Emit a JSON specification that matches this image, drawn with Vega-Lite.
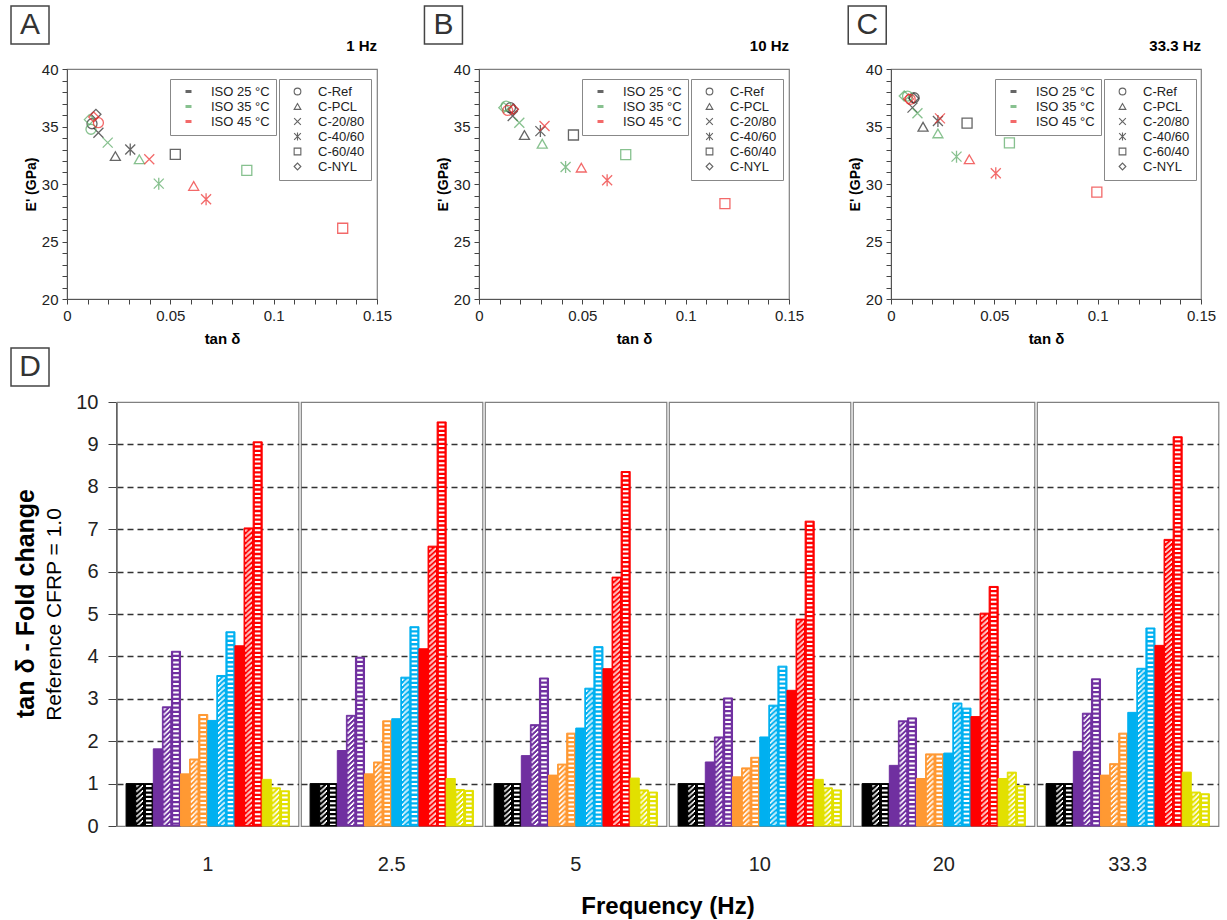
{
  "$schema": "https://vega.github.io/schema/vega-lite/v6.json",
  "padding": {"left": 7, "top": 2, "right": 5, "bottom": 5},
  "config": {
    "font": "Liberation Sans",
    "view": {"stroke": "#808080", "strokeWidth": 1.2},
    "axis": {"labelColor": "#222", "titleColor": "#000", "tickColor": "#444", "domainColor": "#555", "labelFont": "Liberation Sans", "titleFont": "Liberation Sans"},
    "legend": {"labelFont": "Liberation Sans"}
  },
  "datasets": {
    "pts": [
      {"f":"1 Hz","m":"C-Ref","t":"ISO 25 °C","x":0.0121,"y":35.24},
      {"f":"1 Hz","m":"C-PCL","t":"ISO 25 °C","x":0.0234,"y":32.43},
      {"f":"1 Hz","m":"C-20/80","t":"ISO 25 °C","x":0.0152,"y":34.46},
      {"f":"1 Hz","m":"C-40/60","t":"ISO 25 °C","x":0.0306,"y":33.0},
      {"f":"1 Hz","m":"C-60/40","t":"ISO 25 °C","x":0.0524,"y":32.58},
      {"f":"1 Hz","m":"C-NYL","t":"ISO 25 °C","x":0.014,"y":36.06},
      {"f":"1 Hz","m":"C-Ref","t":"ISO 35 °C","x":0.0116,"y":34.76},
      {"f":"1 Hz","m":"C-PCL","t":"ISO 35 °C","x":0.035,"y":32.15},
      {"f":"1 Hz","m":"C-20/80","t":"ISO 35 °C","x":0.0197,"y":33.6},
      {"f":"1 Hz","m":"C-40/60","t":"ISO 35 °C","x":0.0444,"y":30.03},
      {"f":"1 Hz","m":"C-60/40","t":"ISO 35 °C","x":0.087,"y":31.19},
      {"f":"1 Hz","m":"C-NYL","t":"ISO 35 °C","x":0.0108,"y":35.6},
      {"f":"1 Hz","m":"C-Ref","t":"ISO 45 °C","x":0.0152,"y":35.33},
      {"f":"1 Hz","m":"C-PCL","t":"ISO 45 °C","x":0.0613,"y":29.83},
      {"f":"1 Hz","m":"C-20/80","t":"ISO 45 °C","x":0.0398,"y":32.15},
      {"f":"1 Hz","m":"C-40/60","t":"ISO 45 °C","x":0.0673,"y":28.67},
      {"f":"1 Hz","m":"C-60/40","t":"ISO 45 °C","x":0.1334,"y":26.15},
      {"f":"1 Hz","m":"C-NYL","t":"ISO 45 °C","x":0.0129,"y":35.83},
      {"f":"10 Hz","m":"C-Ref","t":"ISO 25 °C","x":0.0152,"y":36.64},
      {"f":"10 Hz","m":"C-PCL","t":"ISO 25 °C","x":0.022,"y":34.26},
      {"f":"10 Hz","m":"C-20/80","t":"ISO 25 °C","x":0.0163,"y":35.91},
      {"f":"10 Hz","m":"C-40/60","t":"ISO 25 °C","x":0.0297,"y":34.6},
      {"f":"10 Hz","m":"C-60/40","t":"ISO 25 °C","x":0.0457,"y":34.26},
      {"f":"10 Hz","m":"C-NYL","t":"ISO 25 °C","x":0.0165,"y":36.5},
      {"f":"10 Hz","m":"C-Ref","t":"ISO 35 °C","x":0.0131,"y":36.78},
      {"f":"10 Hz","m":"C-PCL","t":"ISO 35 °C","x":0.0306,"y":33.5},
      {"f":"10 Hz","m":"C-20/80","t":"ISO 35 °C","x":0.0195,"y":35.33},
      {"f":"10 Hz","m":"C-40/60","t":"ISO 35 °C","x":0.0419,"y":31.48},
      {"f":"10 Hz","m":"C-60/40","t":"ISO 35 °C","x":0.071,"y":32.55},
      {"f":"10 Hz","m":"C-NYL","t":"ISO 35 °C","x":0.012,"y":36.64},
      {"f":"10 Hz","m":"C-Ref","t":"ISO 45 °C","x":0.0139,"y":36.4},
      {"f":"10 Hz","m":"C-PCL","t":"ISO 45 °C","x":0.0495,"y":31.42},
      {"f":"10 Hz","m":"C-20/80","t":"ISO 45 °C","x":0.0317,"y":35.04},
      {"f":"10 Hz","m":"C-40/60","t":"ISO 45 °C","x":0.062,"y":30.32},
      {"f":"10 Hz","m":"C-60/40","t":"ISO 45 °C","x":0.119,"y":28.29},
      {"f":"10 Hz","m":"C-NYL","t":"ISO 45 °C","x":0.0167,"y":36.49},
      {"f":"33.3 Hz","m":"C-Ref","t":"ISO 25 °C","x":0.0112,"y":37.5},
      {"f":"33.3 Hz","m":"C-PCL","t":"ISO 25 °C","x":0.0155,"y":34.98},
      {"f":"33.3 Hz","m":"C-20/80","t":"ISO 25 °C","x":0.0104,"y":36.64},
      {"f":"33.3 Hz","m":"C-40/60","t":"ISO 25 °C","x":0.0227,"y":35.48},
      {"f":"33.3 Hz","m":"C-60/40","t":"ISO 25 °C","x":0.0368,"y":35.3},
      {"f":"33.3 Hz","m":"C-NYL","t":"ISO 25 °C","x":0.011,"y":37.45},
      {"f":"33.3 Hz","m":"C-Ref","t":"ISO 35 °C","x":0.008,"y":37.65},
      {"f":"33.3 Hz","m":"C-PCL","t":"ISO 35 °C","x":0.0227,"y":34.4},
      {"f":"33.3 Hz","m":"C-20/80","t":"ISO 35 °C","x":0.0128,"y":36.15},
      {"f":"33.3 Hz","m":"C-40/60","t":"ISO 35 °C","x":0.0317,"y":32.38},
      {"f":"33.3 Hz","m":"C-60/40","t":"ISO 35 °C","x":0.0573,"y":33.57},
      {"f":"33.3 Hz","m":"C-NYL","t":"ISO 35 °C","x":0.0064,"y":37.65},
      {"f":"33.3 Hz","m":"C-Ref","t":"ISO 45 °C","x":0.0093,"y":37.36},
      {"f":"33.3 Hz","m":"C-PCL","t":"ISO 45 °C","x":0.0379,"y":32.15},
      {"f":"33.3 Hz","m":"C-20/80","t":"ISO 45 °C","x":0.0237,"y":35.71},
      {"f":"33.3 Hz","m":"C-40/60","t":"ISO 45 °C","x":0.0507,"y":30.93},
      {"f":"33.3 Hz","m":"C-60/40","t":"ISO 45 °C","x":0.0996,"y":29.3},
      {"f":"33.3 Hz","m":"C-NYL","t":"ISO 45 °C","x":0.0085,"y":37.4}
    ],
    "bars": [
      {"f":"1","m":"C-Ref","t":25,"s":"C-Ref 25","v":1},{"f":"1","m":"C-Ref","t":35,"s":"C-Ref 35","v":1},{"f":"1","m":"C-Ref","t":45,"s":"C-Ref 45","v":1},
      {"f":"1","m":"C-PCL","t":25,"s":"C-PCL 25","v":1.82},{"f":"1","m":"C-PCL","t":35,"s":"C-PCL 35","v":2.81},{"f":"1","m":"C-PCL","t":45,"s":"C-PCL 45","v":4.12},
      {"f":"1","m":"C-20/80","t":25,"s":"C-20/80 25","v":1.23},{"f":"1","m":"C-20/80","t":35,"s":"C-20/80 35","v":1.58},{"f":"1","m":"C-20/80","t":45,"s":"C-20/80 45","v":2.63},
      {"f":"1","m":"C-40/60","t":25,"s":"C-40/60 25","v":2.49},{"f":"1","m":"C-40/60","t":35,"s":"C-40/60 35","v":3.55},{"f":"1","m":"C-40/60","t":45,"s":"C-40/60 45","v":4.58},
      {"f":"1","m":"C-60/40","t":25,"s":"C-60/40 25","v":4.25},{"f":"1","m":"C-60/40","t":35,"s":"C-60/40 35","v":7.03},{"f":"1","m":"C-60/40","t":45,"s":"C-60/40 45","v":9.06},
      {"f":"1","m":"C-NYL","t":25,"s":"C-NYL 25","v":1.1},{"f":"1","m":"C-NYL","t":35,"s":"C-NYL 35","v":0.9},{"f":"1","m":"C-NYL","t":45,"s":"C-NYL 45","v":0.83},
      {"f":"2.5","m":"C-Ref","t":25,"s":"C-Ref 25","v":1},{"f":"2.5","m":"C-Ref","t":35,"s":"C-Ref 35","v":1},{"f":"2.5","m":"C-Ref","t":45,"s":"C-Ref 45","v":1},
      {"f":"2.5","m":"C-PCL","t":25,"s":"C-PCL 25","v":1.78},{"f":"2.5","m":"C-PCL","t":35,"s":"C-PCL 35","v":2.61},{"f":"2.5","m":"C-PCL","t":45,"s":"C-PCL 45","v":3.98},
      {"f":"2.5","m":"C-20/80","t":25,"s":"C-20/80 25","v":1.23},{"f":"2.5","m":"C-20/80","t":35,"s":"C-20/80 35","v":1.51},{"f":"2.5","m":"C-20/80","t":45,"s":"C-20/80 45","v":2.48},
      {"f":"2.5","m":"C-40/60","t":25,"s":"C-40/60 25","v":2.53},{"f":"2.5","m":"C-40/60","t":35,"s":"C-40/60 35","v":3.51},{"f":"2.5","m":"C-40/60","t":45,"s":"C-40/60 45","v":4.7},
      {"f":"2.5","m":"C-60/40","t":25,"s":"C-60/40 25","v":4.18},{"f":"2.5","m":"C-60/40","t":35,"s":"C-60/40 35","v":6.6},{"f":"2.5","m":"C-60/40","t":45,"s":"C-60/40 45","v":9.53},
      {"f":"2.5","m":"C-NYL","t":25,"s":"C-NYL 25","v":1.12},{"f":"2.5","m":"C-NYL","t":35,"s":"C-NYL 35","v":0.86},{"f":"2.5","m":"C-NYL","t":45,"s":"C-NYL 45","v":0.84},
      {"f":"5","m":"C-Ref","t":25,"s":"C-Ref 25","v":1},{"f":"5","m":"C-Ref","t":35,"s":"C-Ref 35","v":1},{"f":"5","m":"C-Ref","t":45,"s":"C-Ref 45","v":1},
      {"f":"5","m":"C-PCL","t":25,"s":"C-PCL 25","v":1.66},{"f":"5","m":"C-PCL","t":35,"s":"C-PCL 35","v":2.39},{"f":"5","m":"C-PCL","t":45,"s":"C-PCL 45","v":3.49},
      {"f":"5","m":"C-20/80","t":25,"s":"C-20/80 25","v":1.2},{"f":"5","m":"C-20/80","t":35,"s":"C-20/80 35","v":1.46},{"f":"5","m":"C-20/80","t":45,"s":"C-20/80 45","v":2.19},
      {"f":"5","m":"C-40/60","t":25,"s":"C-40/60 25","v":2.31},{"f":"5","m":"C-40/60","t":35,"s":"C-40/60 35","v":3.25},{"f":"5","m":"C-40/60","t":45,"s":"C-40/60 45","v":4.23},
      {"f":"5","m":"C-60/40","t":25,"s":"C-60/40 25","v":3.71},{"f":"5","m":"C-60/40","t":35,"s":"C-60/40 35","v":5.87},{"f":"5","m":"C-60/40","t":45,"s":"C-60/40 45","v":8.36},
      {"f":"5","m":"C-NYL","t":25,"s":"C-NYL 25","v":1.13},{"f":"5","m":"C-NYL","t":35,"s":"C-NYL 35","v":0.85},{"f":"5","m":"C-NYL","t":45,"s":"C-NYL 45","v":0.8},
      {"f":"10","m":"C-Ref","t":25,"s":"C-Ref 25","v":1},{"f":"10","m":"C-Ref","t":35,"s":"C-Ref 35","v":1},{"f":"10","m":"C-Ref","t":45,"s":"C-Ref 45","v":1},
      {"f":"10","m":"C-PCL","t":25,"s":"C-PCL 25","v":1.51},{"f":"10","m":"C-PCL","t":35,"s":"C-PCL 35","v":2.1},{"f":"10","m":"C-PCL","t":45,"s":"C-PCL 45","v":3.02},
      {"f":"10","m":"C-20/80","t":25,"s":"C-20/80 25","v":1.16},{"f":"10","m":"C-20/80","t":35,"s":"C-20/80 35","v":1.37},{"f":"10","m":"C-20/80","t":45,"s":"C-20/80 45","v":1.62},
      {"f":"10","m":"C-40/60","t":25,"s":"C-40/60 25","v":2.1},{"f":"10","m":"C-40/60","t":35,"s":"C-40/60 35","v":2.85},{"f":"10","m":"C-40/60","t":45,"s":"C-40/60 45","v":3.77},
      {"f":"10","m":"C-60/40","t":25,"s":"C-60/40 25","v":3.2},{"f":"10","m":"C-60/40","t":35,"s":"C-60/40 35","v":4.88},{"f":"10","m":"C-60/40","t":45,"s":"C-60/40 45","v":7.19},
      {"f":"10","m":"C-NYL","t":25,"s":"C-NYL 25","v":1.1},{"f":"10","m":"C-NYL","t":35,"s":"C-NYL 35","v":0.9},{"f":"10","m":"C-NYL","t":45,"s":"C-NYL 45","v":0.85},
      {"f":"20","m":"C-Ref","t":25,"s":"C-Ref 25","v":1},{"f":"20","m":"C-Ref","t":35,"s":"C-Ref 35","v":1},{"f":"20","m":"C-Ref","t":45,"s":"C-Ref 45","v":1},
      {"f":"20","m":"C-PCL","t":25,"s":"C-PCL 25","v":1.43},{"f":"20","m":"C-PCL","t":35,"s":"C-PCL 35","v":2.48},{"f":"20","m":"C-PCL","t":45,"s":"C-PCL 45","v":2.55},
      {"f":"20","m":"C-20/80","t":25,"s":"C-20/80 25","v":1.12},{"f":"20","m":"C-20/80","t":35,"s":"C-20/80 35","v":1.7},{"f":"20","m":"C-20/80","t":45,"s":"C-20/80 45","v":1.7},
      {"f":"20","m":"C-40/60","t":25,"s":"C-40/60 25","v":1.72},{"f":"20","m":"C-40/60","t":35,"s":"C-40/60 35","v":2.9},{"f":"20","m":"C-40/60","t":45,"s":"C-40/60 45","v":2.78},
      {"f":"20","m":"C-60/40","t":25,"s":"C-60/40 25","v":2.58},{"f":"20","m":"C-60/40","t":35,"s":"C-60/40 35","v":5.02},{"f":"20","m":"C-60/40","t":45,"s":"C-60/40 45","v":5.65},
      {"f":"20","m":"C-NYL","t":25,"s":"C-NYL 25","v":1.12},{"f":"20","m":"C-NYL","t":35,"s":"C-NYL 35","v":1.27},{"f":"20","m":"C-NYL","t":45,"s":"C-NYL 45","v":0.95},
      {"f":"33.3","m":"C-Ref","t":25,"s":"C-Ref 25","v":1},{"f":"33.3","m":"C-Ref","t":35,"s":"C-Ref 35","v":1},{"f":"33.3","m":"C-Ref","t":45,"s":"C-Ref 45","v":1},
      {"f":"33.3","m":"C-PCL","t":25,"s":"C-PCL 25","v":1.76},{"f":"33.3","m":"C-PCL","t":35,"s":"C-PCL 35","v":2.66},{"f":"33.3","m":"C-PCL","t":45,"s":"C-PCL 45","v":3.47},
      {"f":"33.3","m":"C-20/80","t":25,"s":"C-20/80 25","v":1.2},{"f":"33.3","m":"C-20/80","t":35,"s":"C-20/80 35","v":1.47},{"f":"33.3","m":"C-20/80","t":45,"s":"C-20/80 45","v":2.19},
      {"f":"33.3","m":"C-40/60","t":25,"s":"C-40/60 25","v":2.68},{"f":"33.3","m":"C-40/60","t":35,"s":"C-40/60 35","v":3.72},{"f":"33.3","m":"C-40/60","t":45,"s":"C-40/60 45","v":4.67},
      {"f":"33.3","m":"C-60/40","t":25,"s":"C-60/40 25","v":4.26},{"f":"33.3","m":"C-60/40","t":35,"s":"C-60/40 35","v":6.76},{"f":"33.3","m":"C-60/40","t":45,"s":"C-60/40 45","v":9.18},
      {"f":"33.3","m":"C-NYL","t":25,"s":"C-NYL 25","v":1.27},{"f":"33.3","m":"C-NYL","t":35,"s":"C-NYL 35","v":0.8},{"f":"33.3","m":"C-NYL","t":45,"s":"C-NYL 45","v":0.76}
    ]
  },
  "vconcat": [
    {
      "hconcat": [
        {
          "width": 310, "height": 230,
          "resolve": {"axis": {"x": "independent", "y": "independent"}},
          "layer": [
            {
              "data": {"name": "pts"},
              "transform": [{"filter": "datum.f == '1 Hz'"}],
              "mark": {"type": "point", "filled": false, "size": 100, "strokeWidth": 1.3},
              "encoding": {
                "x": {"field": "x", "type": "quantitative", "scale": {"domain": [0, 0.15], "nice": false, "zero": false},
                  "axis": {"title": "tan δ", "values": [0,0.01,0.02,0.03,0.04,0.05,0.06,0.07,0.08,0.09,0.1,0.11,0.12,0.13,0.14,0.15], "labelExpr": "round(datum.value*100) % 5 == 0 ? format(datum.value, '.2~f') : ''", "labelFlush": false, "labelOverlap": false, "labelFontSize": 15, "labelPadding": 4, "tickSize": 5, "titleFontSize": 15, "titleFontWeight": "bold", "titlePadding": 8, "grid": false}},
                "y": {"field": "y", "type": "quantitative", "scale": {"domain": [20, 40], "nice": false, "zero": false},
                  "axis": {"title": "E' (GPa)", "values": [20,21,22,23,24,25,26,27,28,29,30,31,32,33,34,35,36,37,38,39,40], "labelExpr": "datum.value % 5 == 0 ? datum.label : ''", "labelOverlap": false, "labelFontSize": 15, "labelPadding": 4, "tickSize": 5, "titleFontSize": 14, "titleFontWeight": "bold", "titlePadding": 3, "grid": false}},
                "color": {"field": "t", "type": "nominal", "scale": {"domain": ["ISO 25 °C", "ISO 35 °C", "ISO 45 °C"], "range": ["#262626", "#55a860", "#ee2b2b"]},
                  "legend": {"title": null, "orient": "none", "legendX": 103, "legendY": 10, "strokeColor": "#888", "fillColor": "white", "padding": 6, "symbolOffset": 6, "labelOffset": 16, "symbolType": "M-1,0L1,0", "symbolSize": 36, "symbolStrokeWidth": 3, "labelFontSize": 13, "rowPadding": 1, "labelColor": "#222"}},
                "shape": {"field": "m", "type": "nominal", "scale": {"domain": ["C-Ref", "C-PCL", "C-20/80", "C-40/60", "C-60/40", "C-NYL"], "range": ["circle", "triangle-up", "M-1,-1L1,1M-1,1L1,-1", "M-1,-1L1,1M-1,1L1,-1M0,-1.2L0,1.2", "square", "diamond"]},
                  "legend": {"title": null, "orient": "none", "legendX": 212, "legendY": 10, "strokeColor": "#888", "fillColor": "white", "padding": 6, "symbolOffset": 6, "labelOffset": 14, "symbolSize": 45, "symbolStrokeColor": "#222", "symbolFillColor": "transparent", "symbolStrokeWidth": 1.1, "labelFontSize": 13, "rowPadding": 1, "labelColor": "#222"}}
              }
            },
            {"data": {"values": [{}]}, "mark": {"type": "point", "shape": "square", "size": 1444, "filled": false, "stroke": "#444", "strokeWidth": 1.5, "opacity": 1},
             "encoding": {"x": {"datum": -0.0179, "type": "quantitative", "axis": null}, "y": {"datum": 43.83, "type": "quantitative", "axis": null}}},
            {"data": {"values": [{}]}, "mark": {"type": "text", "text": "A", "fontSize": 30, "color": "#333", "align": "center", "baseline": "middle"},
             "encoding": {"x": {"datum": -0.0179, "type": "quantitative", "axis": null}, "y": {"datum": 43.83, "type": "quantitative", "axis": null}}},
            {"data": {"values": [{}]}, "mark": {"type": "point", "shape": "square", "size": 1444, "filled": false, "stroke": "#444", "strokeWidth": 1.5, "opacity": 1},
             "encoding": {"x": {"datum": -0.0179, "type": "quantitative", "axis": null}, "y": {"datum": 14.09, "type": "quantitative", "axis": null}}},
            {"data": {"values": [{}]}, "mark": {"type": "text", "text": "D", "fontSize": 30, "color": "#333", "align": "center", "baseline": "middle"},
             "encoding": {"x": {"datum": -0.0179, "type": "quantitative", "axis": null}, "y": {"datum": 14.09, "type": "quantitative", "axis": null}}},
            {"data": {"values": [{}]}, "mark": {"type": "text", "text": "1 Hz", "fontSize": 15, "fontWeight": "bold", "color": "#000", "align": "right", "baseline": "middle"},
             "encoding": {"x": {"datum": 0.15, "type": "quantitative", "axis": null}, "y": {"datum": 42.0, "type": "quantitative", "axis": null}}}
          ]
        },
        {
          "width": 310, "height": 230,
          "resolve": {"axis": {"x": "independent", "y": "independent"}},
          "layer": [
            {
              "data": {"name": "pts"},
              "transform": [{"filter": "datum.f == '10 Hz'"}],
              "mark": {"type": "point", "filled": false, "size": 100, "strokeWidth": 1.3},
              "encoding": {
                "x": {"field": "x", "type": "quantitative", "scale": {"domain": [0, 0.15], "nice": false, "zero": false},
                  "axis": {"title": "tan δ", "values": [0,0.01,0.02,0.03,0.04,0.05,0.06,0.07,0.08,0.09,0.1,0.11,0.12,0.13,0.14,0.15], "labelExpr": "round(datum.value*100) % 5 == 0 ? format(datum.value, '.2~f') : ''", "labelFlush": false, "labelOverlap": false, "labelFontSize": 15, "labelPadding": 4, "tickSize": 5, "titleFontSize": 15, "titleFontWeight": "bold", "titlePadding": 8, "grid": false}},
                "y": {"field": "y", "type": "quantitative", "scale": {"domain": [20, 40], "nice": false, "zero": false},
                  "axis": {"title": "E' (GPa)", "values": [20,21,22,23,24,25,26,27,28,29,30,31,32,33,34,35,36,37,38,39,40], "labelExpr": "datum.value % 5 == 0 ? datum.label : ''", "labelOverlap": false, "labelFontSize": 15, "labelPadding": 4, "tickSize": 5, "titleFontSize": 14, "titleFontWeight": "bold", "titlePadding": 3, "grid": false}},
                "color": {"field": "t", "type": "nominal", "scale": {"domain": ["ISO 25 °C", "ISO 35 °C", "ISO 45 °C"], "range": ["#262626", "#55a860", "#ee2b2b"]},
                  "legend": {"title": null, "orient": "none", "legendX": 103, "legendY": 10, "strokeColor": "#888", "fillColor": "white", "padding": 6, "symbolOffset": 6, "labelOffset": 16, "symbolType": "M-1,0L1,0", "symbolSize": 36, "symbolStrokeWidth": 3, "labelFontSize": 13, "rowPadding": 1, "labelColor": "#222"}},
                "shape": {"field": "m", "type": "nominal", "scale": {"domain": ["C-Ref", "C-PCL", "C-20/80", "C-40/60", "C-60/40", "C-NYL"], "range": ["circle", "triangle-up", "M-1,-1L1,1M-1,1L1,-1", "M-1,-1L1,1M-1,1L1,-1M0,-1.2L0,1.2", "square", "diamond"]},
                  "legend": {"title": null, "orient": "none", "legendX": 212, "legendY": 10, "strokeColor": "#888", "fillColor": "white", "padding": 6, "symbolOffset": 6, "labelOffset": 14, "symbolSize": 45, "symbolStrokeColor": "#222", "symbolFillColor": "transparent", "symbolStrokeWidth": 1.1, "labelFontSize": 13, "rowPadding": 1, "labelColor": "#222"}}
              }
            },
            {"data": {"values": [{}]}, "mark": {"type": "point", "shape": "square", "size": 1444, "filled": false, "stroke": "#444", "strokeWidth": 1.5, "opacity": 1},
             "encoding": {"x": {"datum": -0.0172, "type": "quantitative", "axis": null}, "y": {"datum": 43.83, "type": "quantitative", "axis": null}}},
            {"data": {"values": [{}]}, "mark": {"type": "text", "text": "B", "fontSize": 30, "color": "#333", "align": "center", "baseline": "middle"},
             "encoding": {"x": {"datum": -0.0172, "type": "quantitative", "axis": null}, "y": {"datum": 43.83, "type": "quantitative", "axis": null}}},
            {"data": {"values": [{}]}, "mark": {"type": "text", "text": "10 Hz", "fontSize": 15, "fontWeight": "bold", "color": "#000", "align": "right", "baseline": "middle"},
             "encoding": {"x": {"datum": 0.15, "type": "quantitative", "axis": null}, "y": {"datum": 42.0, "type": "quantitative", "axis": null}}}
          ]
        },
        {
          "width": 310, "height": 230,
          "resolve": {"axis": {"x": "independent", "y": "independent"}},
          "layer": [
            {
              "data": {"name": "pts"},
              "transform": [{"filter": "datum.f == '33.3 Hz'"}],
              "mark": {"type": "point", "filled": false, "size": 100, "strokeWidth": 1.3},
              "encoding": {
                "x": {"field": "x", "type": "quantitative", "scale": {"domain": [0, 0.15], "nice": false, "zero": false},
                  "axis": {"title": "tan δ", "values": [0,0.01,0.02,0.03,0.04,0.05,0.06,0.07,0.08,0.09,0.1,0.11,0.12,0.13,0.14,0.15], "labelExpr": "round(datum.value*100) % 5 == 0 ? format(datum.value, '.2~f') : ''", "labelFlush": false, "labelOverlap": false, "labelFontSize": 15, "labelPadding": 4, "tickSize": 5, "titleFontSize": 15, "titleFontWeight": "bold", "titlePadding": 8, "grid": false}},
                "y": {"field": "y", "type": "quantitative", "scale": {"domain": [20, 40], "nice": false, "zero": false},
                  "axis": {"title": "E' (GPa)", "values": [20,21,22,23,24,25,26,27,28,29,30,31,32,33,34,35,36,37,38,39,40], "labelExpr": "datum.value % 5 == 0 ? datum.label : ''", "labelOverlap": false, "labelFontSize": 15, "labelPadding": 4, "tickSize": 5, "titleFontSize": 14, "titleFontWeight": "bold", "titlePadding": 3, "grid": false}},
                "color": {"field": "t", "type": "nominal", "scale": {"domain": ["ISO 25 °C", "ISO 35 °C", "ISO 45 °C"], "range": ["#262626", "#55a860", "#ee2b2b"]},
                  "legend": {"title": null, "orient": "none", "legendX": 104, "legendY": 10, "strokeColor": "#888", "fillColor": "white", "padding": 6, "symbolOffset": 6, "labelOffset": 16, "symbolType": "M-1,0L1,0", "symbolSize": 36, "symbolStrokeWidth": 3, "labelFontSize": 13, "rowPadding": 1, "labelColor": "#222"}},
                "shape": {"field": "m", "type": "nominal", "scale": {"domain": ["C-Ref", "C-PCL", "C-20/80", "C-40/60", "C-60/40", "C-NYL"], "range": ["circle", "triangle-up", "M-1,-1L1,1M-1,1L1,-1", "M-1,-1L1,1M-1,1L1,-1M0,-1.2L0,1.2", "square", "diamond"]},
                  "legend": {"title": null, "orient": "none", "legendX": 213, "legendY": 10, "strokeColor": "#888", "fillColor": "white", "padding": 6, "symbolOffset": 6, "labelOffset": 14, "symbolSize": 45, "symbolStrokeColor": "#222", "symbolFillColor": "transparent", "symbolStrokeWidth": 1.1, "labelFontSize": 13, "rowPadding": 1, "labelColor": "#222"}}
              }
            },
            {"data": {"values": [{}]}, "mark": {"type": "point", "shape": "square", "size": 1444, "filled": false, "stroke": "#444", "strokeWidth": 1.5, "opacity": 1},
             "encoding": {"x": {"datum": -0.0115, "type": "quantitative", "axis": null}, "y": {"datum": 43.83, "type": "quantitative", "axis": null}}},
            {"data": {"values": [{}]}, "mark": {"type": "text", "text": "C", "fontSize": 30, "color": "#333", "align": "center", "baseline": "middle"},
             "encoding": {"x": {"datum": -0.0115, "type": "quantitative", "axis": null}, "y": {"datum": 43.83, "type": "quantitative", "axis": null}}},
            {"data": {"values": [{}]}, "mark": {"type": "text", "text": "33.3 Hz", "fontSize": 15, "fontWeight": "bold", "color": "#000", "align": "right", "baseline": "middle"},
             "encoding": {"x": {"datum": 0.15, "type": "quantitative", "axis": null}, "y": {"datum": 42.0, "type": "quantitative", "axis": null}}}
          ]
        }
      ],
      "spacing": 102,
      "bounds": "flush",
      "resolve": {"legend": {"color": "independent", "shape": "independent"}}
    },
    {
      "hconcat": [
        {
          "width": 1, "height": 402,
          "view": {"stroke": null},
          "data": {"values": [{}]},
          "mark": {"type": "point", "opacity": 0, "size": 1},
          "encoding": {"y": {"datum": 0, "type": "quantitative", "scale": {"domain": [0, 1]},
            "axis": {"title": "tan δ - Fold change", "titleFontSize": 25, "titleFontWeight": "bold", "titleColor": "#000", "labels": false, "ticks": false, "domain": false, "grid": false, "titlePadding": 29}}}
        },
        {
          "data": {"name": "bars"},
          "facet": {"column": {"field": "f", "type": "ordinal", "sort": ["1", "2.5", "5", "10", "20", "33.3"], "title": "Frequency (Hz)",
            "header": {"labelOrient": "bottom", "titleOrient": "bottom", "labelFontSize": 20, "labelPadding": 26, "labelColor": "#222", "titleFontSize": 24, "titleFontWeight": "bold", "titlePadding": 10, "titleColor": "#000"}}},
          "spacing": 0,
          "spec": {
            "width": 181.5, "height": 424,
            "layer": [
              {
                "mark": {"type": "bar", "strokeWidth": 1},
                "encoding": {
                  "x": {"field": "s", "type": "nominal", "sort": ["C-Ref 25","C-Ref 35","C-Ref 45","C-PCL 25","C-PCL 35","C-PCL 45","C-20/80 25","C-20/80 35","C-20/80 45","C-40/60 25","C-40/60 35","C-40/60 45","C-60/40 25","C-60/40 35","C-60/40 45","C-NYL 25","C-NYL 35","C-NYL 45"], "axis": null, "scale": {"paddingInner": 0, "paddingOuter": 1.5}},
                  "y": {"field": "v", "type": "quantitative", "scale": {"domain": [0, 10], "nice": false},
                    "axis": {"title": "Reference CFRP = 1.0", "titleFontSize": 21, "titleFontWeight": "normal", "titlePadding": 11, "values": [0,1,2,3,4,5,6,7,8,9,10], "labelFontSize": 20, "labelPadding": 10, "tickSize": 8, "grid": true, "gridDash": [6, 4], "gridColor": "#333", "gridWidth": 1.5, "gridOpacity": {"condition": {"test": "datum.value == 0 || datum.value == 10", "value": 0}, "value": 1}}},
                  "fill": {"field": "m", "type": "nominal", "scale": {"domain": ["C-Ref", "C-PCL", "C-20/80", "C-40/60", "C-60/40", "C-NYL"], "range": ["#000000", "#7030a0", "#ff9933", "#00b0f0", "#ff0000", "#e2e000"]}, "legend": null},
                  "stroke": {"field": "m", "type": "nominal", "scale": {"domain": ["C-Ref", "C-PCL", "C-20/80", "C-40/60", "C-60/40", "C-NYL"], "range": ["#000000", "#7030a0", "#ff9933", "#00b0f0", "#ff0000", "#e2e000"]}, "legend": null}
                }
              },
              {
                "transform": [{"filter": "datum.t == 45"}],
                "mark": {"type": "rule", "stroke": "white", "strokeWidth": 5.6, "strokeDash": [2, 2.3], "yOffset": 1.5, "y2Offset": -1},
                "encoding": {
                  "x": {"field": "s", "type": "nominal", "bandPosition": 0.5, "sort": ["C-Ref 25","C-Ref 35","C-Ref 45","C-PCL 25","C-PCL 35","C-PCL 45","C-20/80 25","C-20/80 35","C-20/80 45","C-40/60 25","C-40/60 35","C-40/60 45","C-60/40 25","C-60/40 35","C-60/40 45","C-NYL 25","C-NYL 35","C-NYL 45"]},
                  "y": {"field": "v", "type": "quantitative"},
                  "y2": {"datum": 0}
                }
              },
              {
                "transform": [{"filter": "datum.t == 35"}],
                "mark": {"type": "rule", "stroke": "white", "strokeWidth": 1.15, "strokeDash": [2.2, 2.8], "strokeDashOffset": 0, "yOffset": 1.5, "y2Offset": -1},
                "encoding": {
                  "x": {"field": "s", "type": "nominal", "bandPosition": 0.199, "sort": ["C-Ref 25","C-Ref 35","C-Ref 45","C-PCL 25","C-PCL 35","C-PCL 45","C-20/80 25","C-20/80 35","C-20/80 45","C-40/60 25","C-40/60 35","C-40/60 45","C-60/40 25","C-60/40 35","C-60/40 45","C-NYL 25","C-NYL 35","C-NYL 45"]},
                  "y": {"field": "v", "type": "quantitative"},
                  "y2": {"datum": 0}
                }
              },
              {
                "transform": [{"filter": "datum.t == 35"}],
                "mark": {"type": "rule", "stroke": "white", "strokeWidth": 1.15, "strokeDash": [2.2, 2.8], "strokeDashOffset": 1.04, "yOffset": 1.5, "y2Offset": -1},
                "encoding": {
                  "x": {"field": "s", "type": "nominal", "bandPosition": 0.319, "sort": ["C-Ref 25","C-Ref 35","C-Ref 45","C-PCL 25","C-PCL 35","C-PCL 45","C-20/80 25","C-20/80 35","C-20/80 45","C-40/60 25","C-40/60 35","C-40/60 45","C-60/40 25","C-60/40 35","C-60/40 45","C-NYL 25","C-NYL 35","C-NYL 45"]},
                  "y": {"field": "v", "type": "quantitative"},
                  "y2": {"datum": 0}
                }
              },
              {
                "transform": [{"filter": "datum.t == 35"}],
                "mark": {"type": "rule", "stroke": "white", "strokeWidth": 1.15, "strokeDash": [2.2, 2.8], "strokeDashOffset": 2.08, "yOffset": 1.5, "y2Offset": -1},
                "encoding": {
                  "x": {"field": "s", "type": "nominal", "bandPosition": 0.44, "sort": ["C-Ref 25","C-Ref 35","C-Ref 45","C-PCL 25","C-PCL 35","C-PCL 45","C-20/80 25","C-20/80 35","C-20/80 45","C-40/60 25","C-40/60 35","C-40/60 45","C-60/40 25","C-60/40 35","C-60/40 45","C-NYL 25","C-NYL 35","C-NYL 45"]},
                  "y": {"field": "v", "type": "quantitative"},
                  "y2": {"datum": 0}
                }
              },
              {
                "transform": [{"filter": "datum.t == 35"}],
                "mark": {"type": "rule", "stroke": "white", "strokeWidth": 1.15, "strokeDash": [2.2, 2.8], "strokeDashOffset": 3.12, "yOffset": 1.5, "y2Offset": -1},
                "encoding": {
                  "x": {"field": "s", "type": "nominal", "bandPosition": 0.56, "sort": ["C-Ref 25","C-Ref 35","C-Ref 45","C-PCL 25","C-PCL 35","C-PCL 45","C-20/80 25","C-20/80 35","C-20/80 45","C-40/60 25","C-40/60 35","C-40/60 45","C-60/40 25","C-60/40 35","C-60/40 45","C-NYL 25","C-NYL 35","C-NYL 45"]},
                  "y": {"field": "v", "type": "quantitative"},
                  "y2": {"datum": 0}
                }
              },
              {
                "transform": [{"filter": "datum.t == 35"}],
                "mark": {"type": "rule", "stroke": "white", "strokeWidth": 1.15, "strokeDash": [2.2, 2.8], "strokeDashOffset": 4.16, "yOffset": 1.5, "y2Offset": -1},
                "encoding": {
                  "x": {"field": "s", "type": "nominal", "bandPosition": 0.68, "sort": ["C-Ref 25","C-Ref 35","C-Ref 45","C-PCL 25","C-PCL 35","C-PCL 45","C-20/80 25","C-20/80 35","C-20/80 45","C-40/60 25","C-40/60 35","C-40/60 45","C-60/40 25","C-60/40 35","C-60/40 45","C-NYL 25","C-NYL 35","C-NYL 45"]},
                  "y": {"field": "v", "type": "quantitative"},
                  "y2": {"datum": 0}
                }
              },
              {
                "transform": [{"filter": "datum.t == 35"}],
                "mark": {"type": "rule", "stroke": "white", "strokeWidth": 1.15, "strokeDash": [2.2, 2.8], "strokeDashOffset": 5.2, "yOffset": 1.5, "y2Offset": -1},
                "encoding": {
                  "x": {"field": "s", "type": "nominal", "bandPosition": 0.801, "sort": ["C-Ref 25","C-Ref 35","C-Ref 45","C-PCL 25","C-PCL 35","C-PCL 45","C-20/80 25","C-20/80 35","C-20/80 45","C-40/60 25","C-40/60 35","C-40/60 45","C-60/40 25","C-60/40 35","C-60/40 45","C-NYL 25","C-NYL 35","C-NYL 45"]},
                  "y": {"field": "v", "type": "quantitative"},
                  "y2": {"datum": 0}
                }
              }
            ]
          }
        }
      ],
      "spacing": 49,
      "bounds": "flush"
    }
  ],
  "spacing": 2,
  "resolve": {"scale": {"color": "independent", "shape": "independent", "fill": "independent", "stroke": "independent"}}
}
